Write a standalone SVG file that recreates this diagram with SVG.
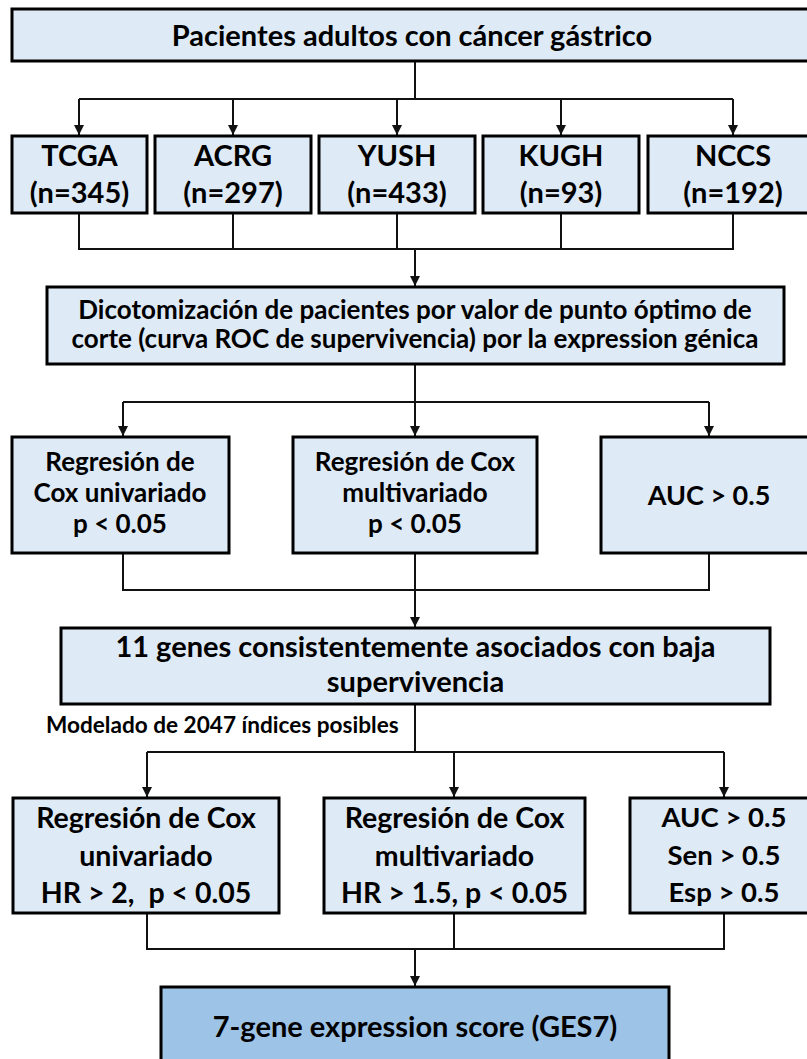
<svg xmlns="http://www.w3.org/2000/svg" width="807" height="1059" viewBox="0 0 807 1059">
<style>
.box{fill:#DEEAF6;stroke:#000;stroke-width:3}
.fin{fill:#9DC3E6;stroke:#000;stroke-width:3}
.t{font-family:Lato,"Open Sans","Liberation Sans",sans-serif;font-weight:bold;fill:#000;text-anchor:middle}
.c{fill:none;stroke:#111;stroke-width:2}
</style>
<defs>
<marker id="ar" markerUnits="userSpaceOnUse" markerWidth="10" markerHeight="11" refX="10" refY="5" orient="auto" viewBox="0 0 10 10">
<path d="M0,0 L10,5 L0,10 z" fill="#111"/>
</marker>
</defs>
<rect width="807" height="1059" fill="#fff"/>
<g id="connectors">
<polyline class="c" points="415,61 415,99"/>
<polyline class="c" points="79,99 733,99"/>
<line class="c" x1="79" y1="99" x2="79" y2="135" marker-end="url(#ar)"/>
<line class="c" x1="233" y1="99" x2="233" y2="135" marker-end="url(#ar)"/>
<line class="c" x1="397" y1="99" x2="397" y2="135" marker-end="url(#ar)"/>
<line class="c" x1="561" y1="99" x2="561" y2="135" marker-end="url(#ar)"/>
<line class="c" x1="733" y1="99" x2="733" y2="135" marker-end="url(#ar)"/>
<polyline class="c" points="79,213 79,249 733,249 733,213"/>
<line class="c" x1="233" y1="213" x2="233" y2="249"/>
<line class="c" x1="397" y1="213" x2="397" y2="249"/>
<line class="c" x1="561" y1="213" x2="561" y2="249"/>
<line class="c" x1="415" y1="249" x2="415" y2="286" marker-end="url(#ar)"/>
<polyline class="c" points="415,364 415,402"/>
<polyline class="c" points="123,402 709,402"/>
<line class="c" x1="123" y1="402" x2="123" y2="436" marker-end="url(#ar)"/>
<line class="c" x1="415" y1="402" x2="415" y2="436" marker-end="url(#ar)"/>
<line class="c" x1="709" y1="402" x2="709" y2="436" marker-end="url(#ar)"/>
<polyline class="c" points="123,553 123,590 709,590 709,553"/>
<line class="c" x1="415" y1="553" x2="415" y2="590"/>
<line class="c" x1="415" y1="590" x2="415" y2="627" marker-end="url(#ar)"/>
<polyline class="c" points="415,704 415,752"/>
<polyline class="c" points="147,752 724,752"/>
<line class="c" x1="147" y1="752" x2="147" y2="797" marker-end="url(#ar)"/>
<line class="c" x1="454" y1="752" x2="454" y2="797" marker-end="url(#ar)"/>
<line class="c" x1="724" y1="752" x2="724" y2="797" marker-end="url(#ar)"/>
<polyline class="c" points="147,913 147,949 724,949 724,913"/>
<line class="c" x1="454" y1="913" x2="454" y2="949"/>
<line class="c" x1="415" y1="949" x2="415" y2="986" marker-end="url(#ar)"/>
</g>
<g id="n_top">
<rect class="box" x="12" y="9" width="800" height="52"/>
<text class="t" x="412" y="46" font-size="29">Pacientes adultos con cáncer gástrico</text>
</g>
<g id="n_tcga">
<rect class="box" x="12" y="136" width="135" height="77"/>
<text class="t" x="79.5" y="166" font-size="29">TCGA</text>
<text class="t" x="79.5" y="203" font-size="29">(n=345)</text>
</g>
<g id="n_acrg">
<rect class="box" x="155" y="136" width="156" height="77"/>
<text class="t" x="233" y="166" font-size="29">ACRG</text>
<text class="t" x="233" y="203" font-size="29">(n=297)</text>
</g>
<g id="n_yush">
<rect class="box" x="319" y="136" width="156" height="77"/>
<text class="t" x="397" y="166" font-size="29">YUSH</text>
<text class="t" x="397" y="203" font-size="29">(n=433)</text>
</g>
<g id="n_kugh">
<rect class="box" x="483" y="136" width="156" height="77"/>
<text class="t" x="561" y="166" font-size="29">KUGH</text>
<text class="t" x="561" y="203" font-size="29">(n=93)</text>
</g>
<g id="n_nccs">
<rect class="box" x="648" y="136" width="170" height="77"/>
<text class="t" x="733" y="166" font-size="29">NCCS</text>
<text class="t" x="733" y="203" font-size="29">(n=192)</text>
</g>
<g id="n_dico">
<rect class="box" x="47" y="287" width="737" height="77"/>
<text class="t" x="415" y="319" font-size="26">Dicotomización de pacientes por valor de punto óptimo de</text>
<text class="t" x="415" y="348" font-size="26">corte (curva ROC de supervivencia) por la expression génica</text>
</g>
<g id="n_cox_uni1">
<rect class="box" x="12" y="437" width="217" height="116"/>
<text class="t" x="120" y="471" font-size="26">Regresión de</text>
<text class="t" x="120" y="502" font-size="26">Cox univariado</text>
<text class="t" x="120" y="533" font-size="26">p &lt; 0.05</text>
</g>
<g id="n_cox_multi1">
<rect class="box" x="293" y="437" width="244" height="116"/>
<text class="t" x="415" y="471" font-size="26">Regresión de Cox</text>
<text class="t" x="415" y="502" font-size="26">multivariado</text>
<text class="t" x="415" y="533" font-size="26">p &lt; 0.05</text>
</g>
<g id="n_auc1">
<rect class="box" x="601" y="437" width="216" height="116"/>
<text class="t" x="709" y="505" font-size="27">AUC &gt; 0.5</text>
</g>
<g id="n_genes">
<rect class="box" x="61" y="628" width="709" height="76"/>
<text class="t" x="415.5" y="657" font-size="29">11 genes consistentemente asociados con baja</text>
<text class="t" x="415.5" y="692" font-size="29">supervivencia</text>
</g>
<text class="t" x="46" y="733" font-size="22.6" style="text-anchor:start">Modelado de 2047 índices posibles</text>
<g id="n_cox_uni2">
<rect class="box" x="13" y="798" width="266" height="115"/>
<text class="t" x="146" y="828" font-size="28.5">Regresión de Cox</text>
<text class="t" x="146" y="866" font-size="28.5">univariado</text>
<text class="t" x="146" y="903" font-size="28.5" xml:space="preserve">HR &gt; 2,  p &lt; 0.05</text>
</g>
<g id="n_cox_multi2">
<rect class="box" x="324" y="798" width="261" height="115"/>
<text class="t" x="454.5" y="828" font-size="28.5">Regresión de Cox</text>
<text class="t" x="454.5" y="866" font-size="28.5">multivariado</text>
<text class="t" x="454.5" y="903" font-size="28.5">HR &gt; 1.5, p &lt; 0.05</text>
</g>
<g id="n_auc2">
<rect class="box" x="630" y="798" width="188" height="115"/>
<text class="t" x="724" y="827" font-size="27.5">AUC &gt; 0.5</text>
<text class="t" x="724" y="865" font-size="27.5">Sen &gt; 0.5</text>
<text class="t" x="724" y="902" font-size="27.5">Esp &gt; 0.5</text>
</g>
<g id="n_ges7">
<rect class="fin" x="161" y="987" width="508" height="90"/>
<text class="t" x="415" y="1037" font-size="29">7-gene expression score (GES7)</text>
</g>
</svg>
